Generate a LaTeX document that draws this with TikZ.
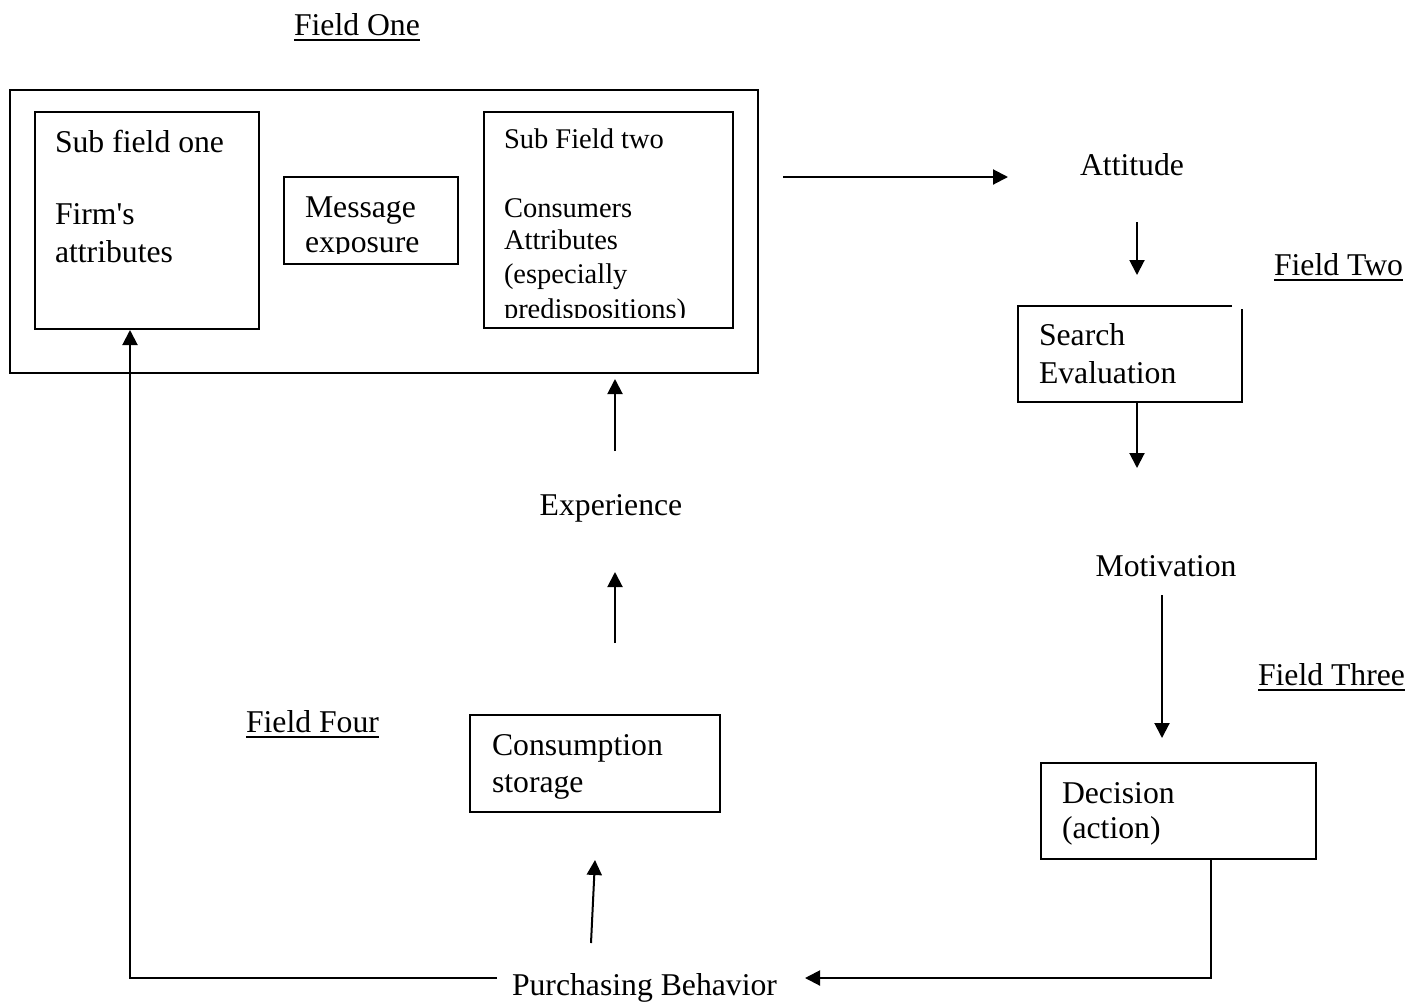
\documentclass[tikz,border=0pt]{standalone}
\usepackage{fontspec}
\setmainfont{Liberation Serif}
\usetikzlibrary{arrows.meta}
\begin{document}
\begin{tikzpicture}[x=1pt,y=-1pt,
  every node/.style={inner sep=0pt,outer sep=0pt},
  txt/.style={anchor=base west,font=\fontsize{31.7}{38}\selectfont},
  ctxt/.style={anchor=base,font=\fontsize{31.7}{38}\selectfont},
  stxt/.style={anchor=base west,font=\fontsize{28.5}{33}\selectfont},
  boxline/.style={line width=1.8pt,line join=miter},
  conn/.style={line width=2pt},
  arr/.style={conn,-{Triangle[length=15pt,width=15pt]}},
  uline/.style={line width=2.4pt}]
\useasboundingbox (0,0) rectangle (1424,1002);

% ---- boxes ----
\draw[boxline] (10,90) rectangle (758,373);
\draw[boxline] (35,112) rectangle (259,329);
\draw[boxline] (284,177) rectangle (458,264);
\draw[boxline] (484,112) rectangle (733,328);
\draw[boxline] (1232,306) -- (1018,306) -- (1018,402) -- (1242,402) -- (1242,309);
\draw[boxline] (470,715) rectangle (720,812);
\draw[boxline] (1041,763) rectangle (1316,859);

% ---- texts ----
\node[txt] (fieldone) at (294,35) {Field One};
\draw[uline] ([yshift=-5pt]fieldone.base west) -- ([yshift=-5pt]fieldone.base east);

\node[txt] (sf1a) at (55,152) {Sub field one};
\node[txt] (sf1b) at (55,224) {Firm\textquotesingle s};
\node[txt] (sf1c) at (55,262) {attributes};

\begin{scope}
\clip (284,177) rectangle (458,253);
\node[txt] (msga) at (305,217) {Message};
\node[txt] (msgb) at (305,252) {exposure};
\end{scope}

\node[stxt] (sf2a) at (504,148) {Sub Field two};
\node[stxt] (sf2b) at (504,217) {Consumers};
\node[stxt] (sf2c) at (504,249) {Attributes};
\node[stxt] (sf2d) at (504,283) {(especially};
\begin{scope}
\clip (484,112) rectangle (733,317);
\node[stxt] (sf2e) at (504,318) {predispositions)};
\end{scope}

\node[ctxt] (attitude) at (1132,175) {Attitude};
\node[txt] (fieldtwo) at (1274,275) {Field Two};
\draw[uline] ([yshift=-5pt]fieldtwo.base west) -- ([yshift=-5pt]fieldtwo.base east);

\node[txt] (search) at (1039,345) {Search};
\node[txt] (evaluation) at (1039,383) {Evaluation};

\node[ctxt] (motivation) at (1166,576) {Motivation};
\node[txt] (fieldthree) at (1258,685) {Field Three};
\draw[uline] ([yshift=-5pt]fieldthree.base west) -- ([yshift=-5pt]fieldthree.base east);

\node[txt] (decision) at (1062,803) {Decision};
\node[txt] (action) at (1062,838) {(action)};

\node[ctxt] (experience) at (611,515) {Experience};
\node[txt] (fieldfour) at (246,732) {Field Four};
\draw[uline] ([yshift=-5pt]fieldfour.base west) -- ([yshift=-5pt]fieldfour.base east);

\node[txt] (cons) at (492,755) {Consumption};
\node[txt] (stor) at (492,792) {storage};

\node[txt] (purch) at (512,995) {Purchasing Behavior};

% ---- connector end points ----
\coordinate (h1) at (783,177);
\coordinate (h2) at (1008,177);
\coordinate (a1) at (1137,222);
\coordinate (a2) at (1137,275);
\coordinate (s1) at (1137,402);
\coordinate (s2) at (1137,468);
\coordinate (m1) at (1162,595);
\coordinate (m2) at (1162,738);
\coordinate (d1) at (1211,859);
\coordinate (dc) at (1211,978);
\coordinate (p1) at (805,978);
\coordinate (p2) at (497,978);
\coordinate (lc) at (130,978);
\coordinate (l2) at (130,330);
\coordinate (u1) at (591,943);
\coordinate (u2) at (595,860);
\coordinate (e1) at (615,643);
\coordinate (e2) at (615,572);
\coordinate (x1) at (615,451);
\coordinate (x2) at (615,379);

% ---- connectors ----
\draw[arr] (h1) -- (h2);
\draw[arr] (a1) -- (a2);
\draw[arr] (s1) -- (s2);
\draw[arr] (m1) -- (m2);
\draw[arr] (d1) -- (dc) -- (p1);
\draw[arr] (p2) -- (lc) -- (l2);
\draw[arr] (u1) -- (u2);
\draw[arr] (e1) -- (e2);
\draw[arr] (x1) -- (x2);
\end{tikzpicture}
\end{document}
